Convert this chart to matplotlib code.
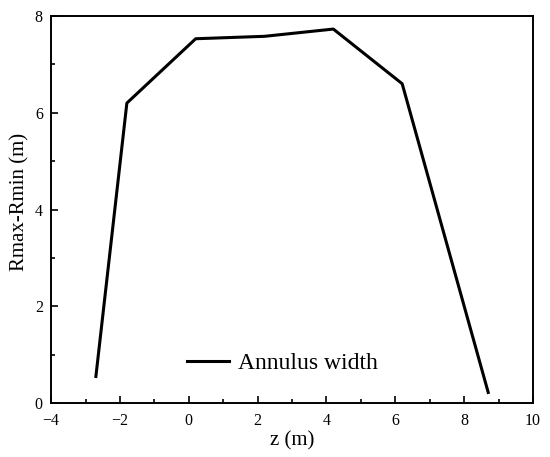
import matplotlib.pyplot as plt
from matplotlib.ticker import MultipleLocator

# annulus width vs z
z = [-2.7, -1.8, 0.2, 2.2, 4.2, 6.2, 8.7]
width = [0.55, 6.2, 7.53, 7.58, 7.73, 6.6, 0.22]

plt.rcParams['font.family'] = ['Liberation Serif', 'DejaVu Serif']

fig, ax = plt.subplots(figsize=(5.5, 4.57), dpi=100)
fig.subplots_adjust(left=0.093, right=0.969, top=0.965, bottom=0.118)

ax.plot(z, width, color='black', lw=2.2, label='Annulus width')

ax.set_xlim(-4, 10)
ax.set_ylim(0, 8)
ax.xaxis.set_major_locator(MultipleLocator(2))
ax.xaxis.set_minor_locator(MultipleLocator(1))
ax.yaxis.set_major_locator(MultipleLocator(2))
ax.yaxis.set_minor_locator(MultipleLocator(1))
ax.tick_params(which='both', direction='in', width=1.2, labelsize=11.5)
ax.tick_params(which='major', length=5)
ax.tick_params(which='minor', length=3)
ax.tick_params(axis='x', pad=7)
ax.tick_params(axis='y', pad=6)
for s in ax.spines.values():
    s.set_linewidth(1.4)

ax.set_xlabel('z (m)', fontsize=15, labelpad=2)
ax.set_ylabel('Rmax-Rmin (m)', fontsize=15)
ax.yaxis.set_label_coords(-0.045, 0.52)

ax.legend(loc='lower center', frameon=False, fontsize=17, handlelength=1.8,
          handletextpad=0.4, bbox_to_anchor=(0.48, 0.02))

plt.savefig('out.png', dpi=100)
